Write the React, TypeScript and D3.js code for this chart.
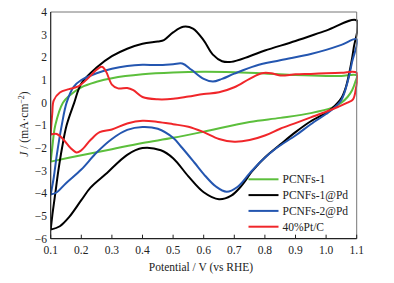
import React from "react";
import * as d3 from "d3";

const xTicks = [0.1, 0.2, 0.3, 0.4, 0.5, 0.6, 0.7, 0.8, 0.9, 1.0, 1.1];
const yTicks = [4, 3, 2, 1, 0, -1, -2, -3, -4, -5, -6];
const seriesNames = ["PCNFs-1", "PCNFs-1@Pd", "PCNFs-2@Pd", "40%Pt/C"];
const seriesColors = ["#5cbf3c", "#000000", "#2456b0", "#f0262a"];

// [potential, current] anodic branch (0.1 -> 1.1)
const greenUp: [number, number][] = [
  [0.1, -2.6], [0.105, -2.0], [0.115, -1.0], [0.14, 0], [0.16, 0.3], [0.2, 0.68], [0.25, 0.92],
  [0.3, 1.08], [0.4, 1.25], [0.5, 1.33], [0.6, 1.36], [0.7, 1.34], [0.8, 1.29], [0.9, 1.22],
  [1.0, 1.18], [1.05, 1.18], [1.1, 1.2],
];
// cathodic branch (1.1 -> 0.1)
const greenDown: [number, number][] = [
  [1.095, 0.9], [1.085, 0.55], [1.07, 0.25], [1.05, 0.0], [1.02, -0.22], [0.95, -0.46],
  [0.85, -0.67], [0.75, -0.85], [0.6, -1.28], [0.5, -1.55], [0.4, -1.78], [0.3, -2.05],
  [0.2, -2.32], [0.1, -2.6],
];

const blackUp: [number, number][] = [
  [0.1, -5.6], [0.105, -5.0], [0.115, -4.0], [0.125, -3.0], [0.137, -2.0], [0.152, -1.0],
  [0.177, 0], [0.2, 0.85], [0.25, 1.55], [0.3, 2.05], [0.35, 2.38], [0.4, 2.6], [0.45, 2.7],
  [0.47, 2.76], [0.5, 3.1], [0.533, 3.35], [0.565, 3.27], [0.6, 2.75], [0.63, 2.12],
  [0.66, 1.83], [0.69, 1.8], [0.75, 2.05], [0.8, 2.3], [0.9, 2.72], [1.0, 3.18], [1.1, 3.63],
];
const blackDown: [number, number][] = [
  [1.09, 2.4], [1.08, 1.6], [1.065, 0.7], [1.05, 0.2], [1.02, -0.25], [1.0, -0.45],
  [0.95, -0.82], [0.9, -1.3], [0.85, -1.85], [0.8, -2.42], [0.76, -3.0], [0.72, -3.72],
  [0.69, -4.1], [0.65, -4.26], [0.6, -3.95], [0.55, -3.25], [0.5, -2.45], [0.46, -2.1],
  [0.4, -2.0], [0.35, -2.3], [0.28, -3.15], [0.23, -3.75], [0.2, -4.3], [0.16, -5.05],
  [0.13, -5.45], [0.1, -5.6],
];

const blueUp: [number, number][] = [
  [0.1, -4.05], [0.11, -3.3], [0.12, -2.3], [0.136, -1.0], [0.152, 0], [0.175, 0.7],
  [0.2, 1.0], [0.25, 1.3], [0.3, 1.5], [0.35, 1.62], [0.4, 1.67], [0.45, 1.66], [0.5, 1.7],
  [0.53, 1.73], [0.56, 1.45], [0.6, 1.05], [0.63, 0.93], [0.66, 1.05], [0.7, 1.28],
  [0.77, 1.63], [0.85, 1.87], [0.95, 2.15], [1.0, 2.33], [1.05, 2.55], [1.1, 2.8],
];
const blueDown: [number, number][] = [
  [1.085, 1.8], [1.07, 0.9], [1.05, 0.12], [1.02, -0.3], [1.0, -0.5], [0.95, -0.95],
  [0.9, -1.45], [0.84, -1.98], [0.79, -2.55], [0.75, -3.12], [0.71, -3.72], [0.675, -3.93],
  [0.64, -3.7], [0.6, -3.15], [0.57, -2.65], [0.53, -2.0], [0.5, -1.55], [0.45, -1.15],
  [0.4, -1.07], [0.35, -1.2], [0.3, -1.6], [0.25, -2.2], [0.2, -2.95], [0.15, -3.55],
  [0.12, -3.95], [0.1, -4.05],
];

const redUp: [number, number][] = [
  [0.1, -1.4], [0.105, -0.5], [0.11, 0.1], [0.13, 0.45], [0.16, 0.6], [0.19, 0.72],
  [0.22, 1.05], [0.25, 1.45], [0.267, 1.58], [0.28, 1.4], [0.3, 0.8], [0.32, 0.63],
  [0.35, 0.65], [0.37, 0.55], [0.4, 0.25], [0.45, 0.15], [0.5, 0.17], [0.55, 0.27],
  [0.6, 0.38], [0.65, 0.46], [0.7, 0.68], [0.75, 1.05], [0.79, 1.3], [0.82, 1.3],
  [0.85, 1.2], [0.9, 1.25], [0.95, 1.27], [1.0, 1.3], [1.05, 1.32], [1.1, 1.32],
];
const redDown: [number, number][] = [
  [1.097, 0.6], [1.088, 0.15], [1.07, 0.0], [1.04, -0.18], [1.0, -0.4], [0.95, -0.65],
  [0.9, -0.9], [0.85, -1.15], [0.8, -1.45], [0.75, -1.65], [0.7, -1.72], [0.65, -1.6],
  [0.6, -1.3], [0.55, -1.06], [0.5, -0.95], [0.45, -0.85], [0.4, -0.8], [0.35, -0.92],
  [0.3, -1.18], [0.26, -1.3], [0.23, -1.65], [0.2, -2.1], [0.185, -2.2], [0.165, -2.0],
  [0.14, -1.6], [0.12, -1.38], [0.1, -1.4],
];

const loops = [
  [greenUp, greenDown],
  [blackUp, blackDown],
  [blueUp, blueDown],
  [redUp, redDown],
];
const drawOrder = [0, 1, 2, 3];

const W = 394;
const H = 283;
const L = 50.7, R = 356.7, T = 12, B = 238.7;
const FONT = "'Liberation Serif', 'Times New Roman', serif";

export default function App() {
  const x = d3.scaleLinear().domain([0.1, 1.1]).range([L, R]);
  const y = d3.scaleLinear().domain([-6, 4]).range([B, T]);
  const line = d3
    .line<[number, number]>()
    .x((d) => x(d[0]))
    .y((d) => y(d[1]))
    .curve(d3.curveCatmullRom.alpha(0.5));

  return (
    <svg
      width={W}
      height={H}
      style={{ position: "absolute", left: 0, top: 0, background: "#fff" }}
      fontFamily={FONT}
    >
      <defs>
        <clipPath id="plotclip">
          <rect x={L} y={T - 1} width={R - L + 1} height={B - T + 2} />
        </clipPath>
      </defs>
      <g clipPath="url(#plotclip)">
        {drawOrder.map((i) => {
          const [up, down] = loops[i];
          return (
            <path
              key={i}
              d={line([...up, ...down]) || ""}
              fill="none"
              stroke={seriesColors[i]}
              strokeWidth={2}
              strokeLinejoin="round"
            />
          );
        })}
      </g>
      {/* frame */}
      <line x1={L} y1={T} x2={R} y2={T} stroke="#777" strokeWidth={1} />
      <line x1={R} y1={T} x2={R} y2={B} stroke="#777" strokeWidth={1} />
      <line x1={L} y1={T} x2={L} y2={B} stroke="#222" strokeWidth={1.2} />
      <line x1={L} y1={B} x2={R} y2={B} stroke="#222" strokeWidth={1.2} />
      {xTicks.map((t) => (
        <g key={t}>
          <line x1={x(t)} x2={x(t)} y1={B} y2={B - 4} stroke="#222" strokeWidth={1} />
          <text x={x(t)} y={254} textAnchor="middle" fontSize={11.5} fill="#222">
            {t.toFixed(1)}
          </text>
        </g>
      ))}
      {yTicks.map((t) => (
        <text key={t} x={47} y={y(t) + 4} textAnchor="end" fontSize={11.5} fill="#222">
          {t < 0 ? "\u2212" + Math.abs(t) : String(t)}
        </text>
      ))}
      <text x={201} y={271} textAnchor="middle" fontSize={11.5} fill="#222">
        Potential / V (vs RHE)
      </text>
      <text
        transform={`translate(28, 124) rotate(-90)`}
        textAnchor="middle"
        fontSize={11.5}
        fill="#222"
      >
        <tspan fontStyle="italic">J</tspan>
        <tspan> / (mA·cm</tspan>
        <tspan dy={-4} fontSize={8}>−2</tspan>
        <tspan dy={4}>)</tspan>
      </text>
      {seriesNames.map((n, i) => {
        const yy = 179.3 + i * 15.8;
        return (
          <g key={n}>
            <line x1={248.5} x2={278.5} y1={yy} y2={yy} stroke={seriesColors[i]} strokeWidth={2} />
            <text x={282.5} y={yy + 4} fontSize={11.5} fill="#222">
              {n}
            </text>
          </g>
        );
      })}
    </svg>
  );
}
